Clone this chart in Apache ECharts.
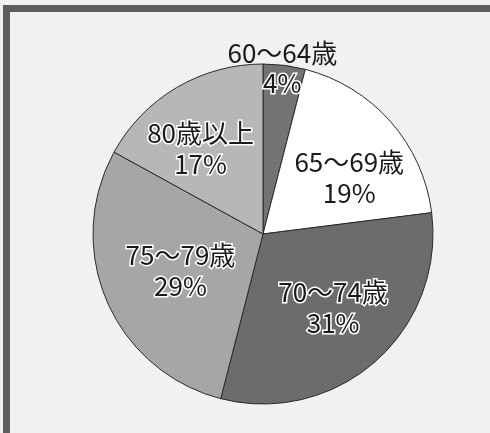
<!DOCTYPE html>
<html>
<head>
    <meta charset="utf-8">
    <title>ECharts</title>
    <script src="https://cdn.jsdelivr.net/npm/echarts@6/dist/echarts.min.js"></script>
    <style>
        html, body { margin: 0; padding: 0; background: #f1f1f1; }
        #frame { position: absolute; left: 3px; top: 5px; width: 520px; height: 460px;
                 border-left: 7px solid #5e5e5e; border-top: 7px solid #5e5e5e; }
        #main { position: absolute; left: 0; top: 0; width: 490px; height: 433px; }
    </style>
</head>
<body>
    <div id="frame"></div>
    <div id="main"></div>
    <script type="text/javascript">
        // 年齢層と割合
        var ageGroups = ['60〜64歳', '65〜69歳', '70〜74歳', '75〜79歳', '80歳以上'];
        var shares = [4, 19, 31, 29, 17];
        var sliceColors = ['#737373', '#ffffff', '#6c6c6c', '#a6a6a6', '#b7b7b7'];
        // ラベルの微調整（offset でずらす）
        var labelShift = [[-2, 3], [9, 12], [2, -4], [12, -4], [-10, 3]];

        var myChart = echarts.init(document.getElementById('main'));

        var center = [263, 234];
        var font = '"Noto Sans CJK JP", "Noto Sans", sans-serif';

        var sliceData = [];
        for (var i = 0; i < ageGroups.length; i++) {
            sliceData.push({ name: ageGroups[i], value: shares[i], itemStyle: { color: sliceColors[i] } });
        }

        // ラベル用（透明）: 内側ラベルを半径 ~100 に置く
        var labelData = [];
        for (var i = 0; i < ageGroups.length; i++) {
            labelData.push({ name: ageGroups[i], value: shares[i], label: { show: i !== 0, offset: labelShift[i] } });
        }
        // 60〜64歳だけは円の上に名前を出す
        var topLabelData = [];
        for (var i = 0; i < ageGroups.length; i++) {
            topLabelData.push({ name: ageGroups[i], value: shares[i], label: { show: i === 0, offset: labelShift[i] } });
        }

        var haloText = {
            color: '#1a1a1a',
            fontFamily: font,
            fontSize: 26,
            textBorderColor: '#ffffff',
            textBorderWidth: 3,
            lineHeight: 31
        };

        option = {
            animation: false,
            series: [
                {
                    type: 'pie',
                    center: center,
                    radius: 170,
                    clockwise: true,
                    startAngle: 90,
                    silent: true,
                    label: { show: false },
                    labelLine: { show: false },
                    itemStyle: { borderColor: '#2a2a2a', borderWidth: 1 },
                    data: sliceData
                },
                {
                    type: 'pie',
                    center: center,
                    radius: 200,
                    startAngle: 90,
                    silent: true,
                    itemStyle: { color: 'rgba(0,0,0,0)' },
                    labelLine: { show: false },
                    label: Object.assign({
                        position: 'inside',
                        formatter: '{b}\n{d}%'
                    }, haloText),
                    data: labelData
                },
                {
                    type: 'pie',
                    center: center,
                    radius: 334,
                    startAngle: 90,
                    silent: true,
                    itemStyle: { color: 'rgba(0,0,0,0)' },
                    labelLine: { show: false },
                    label: {
                        position: 'inside',
                        formatter: '{n|{b}}\n{p|{d}%}',
                        rich: {
                            n: { color: '#1a1a1a', fontFamily: font, fontSize: 26, lineHeight: 30 },
                            p: haloText
                        }
                    },
                    data: topLabelData
                }
            ]
        };

        myChart.setOption(option);
    </script>
</body>
</html>
